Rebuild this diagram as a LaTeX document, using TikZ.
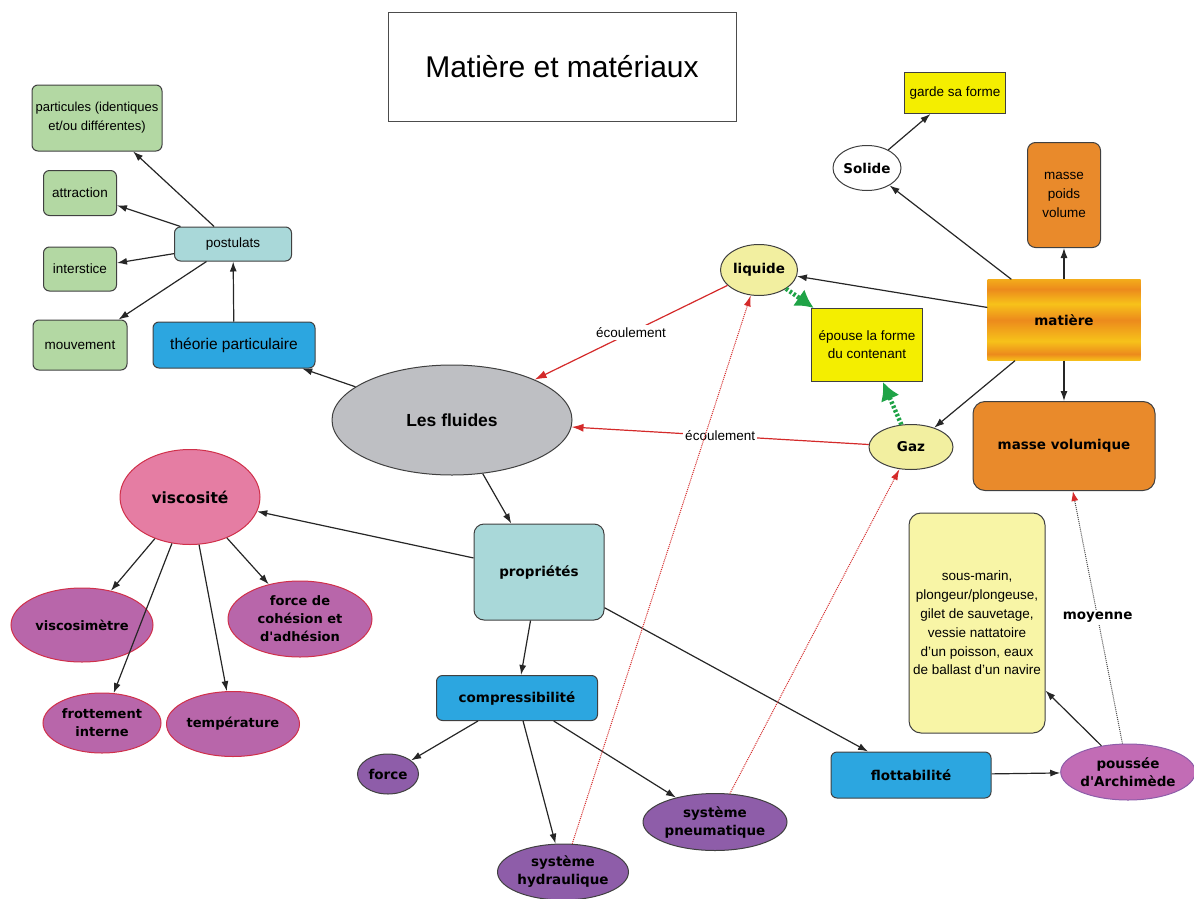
\documentclass[tikz,border=0pt]{standalone}
\usepackage{fontspec}
\setmainfont{Liberation Sans}
\newfontfamily\vfont{DejaVu Sans}
\usetikzlibrary{shapes.geometric,arrows.meta}

\definecolor{vert}{HTML}{B3D8A3}
\definecolor{turquoise}{HTML}{A9D8D9}
\definecolor{bleu}{HTML}{2CA6E0}
\definecolor{gris}{HTML}{BEBFC3}
\definecolor{rose}{HTML}{E57DA3}
\definecolor{mauve}{HTML}{B866AA}
\definecolor{violet}{HTML}{8E5DA9}
\definecolor{pousse}{HTML}{C26CB5}
\definecolor{jaune}{HTML}{F4EE00}
\definecolor{jaunepale}{HTML}{F2EFA0}
\definecolor{creme}{HTML}{F8F5A6}
\definecolor{orange}{HTML}{E98A2B}
\definecolor{morange}{HTML}{EC8A1C}
\definecolor{mjaune}{HTML}{F7C21A}
\definecolor{rouge}{HTML}{D42A2A}
\definecolor{bordrouge}{HTML}{D0304A}
\definecolor{vertf}{HTML}{1FA347}

\pgfdeclareverticalshading{rayures}{100bp}{color(0bp)=(mjaune); color(25bp)=(mjaune);
  color(29bp)=(morange); color(37bp)=(mjaune); color(50bp)=(morange); color(60bp)=(mjaune);
  color(69bp)=(morange); color(75bp)=(mjaune!60!morange); color(100bp)=(mjaune!60!morange)}

\tikzset{
  texte/.style={font=\fontsize{13.5}{19}\selectfont},
  gras/.style={font=\vfont\bfseries\fontsize{13.5}{18}\selectfont},
  boite/.style={draw=black!75, line width=1pt, rounded corners=6pt, inner sep=0pt, align=center},
  ovale/.style={ellipse, draw=black!75, line width=1pt, inner sep=0pt, align=center, gras},
  fleche/.style={draw=black!85, line width=1.2pt, -{Latex[length=10pt,width=7pt]}},
  ecoul/.style={draw=rouge, line width=1.2pt, -{Latex[length=12pt,width=8pt]}},
  pointille/.style={draw=rouge, line width=1pt, densely dotted, -{Latex[length=11pt,width=7pt]}},
  forme/.style={draw=vertf, line width=4.5pt, dash pattern=on 2.5pt off 2pt, -{Latex[length=18pt,width=20pt]}},
  etiq/.style={fill=white, inner sep=2pt, texte}
}

\begin{document}
\begin{tikzpicture}[x=1pt, y=-1pt]
  \useasboundingbox (0,0) rectangle (1194,899);

  % titre
  \node[draw=black!70, line width=1pt, minimum width=348pt, minimum height=108pt,
        font=\fontsize{30}{34}\selectfont] (titre) at (562,67) {Matière et matériaux};

  % particules
  \node[boite, fill=vert, minimum width=130pt, minimum height=66pt, font=\fontsize{13}{19}\selectfont] (part) at (97,118) {particules (identiques\\et/ou différentes)};
  \node[boite, fill=vert, minimum width=73pt, minimum height=45pt, texte] (attr) at (80,193) {attraction};
  \node[boite, fill=vert, minimum width=73pt, minimum height=44pt, texte] (inter) at (80,269) {interstice};
  \node[boite, fill=vert, minimum width=94pt, minimum height=50pt, texte] (mouv) at (80,345) {mouvement};
  \node[boite, fill=turquoise, minimum width=117pt, minimum height=34pt, texte] (post) at (233,244) {postulats};
  \node[boite, fill=bleu, minimum width=162pt, minimum height=46pt, font=\fontsize{15.5}{18}\selectfont] (theo) at (234,345) {théorie particulaire};

  % fluides
  \node[ovale, fill=gris, minimum width=240pt, minimum height=110pt,
        font=\bfseries\fontsize{17.5}{20}\selectfont] (fluides) at (452,420) {Les fluides};
  \node[boite, fill=turquoise, minimum width=130pt, minimum height=96pt, rounded corners=10pt, gras] (prop) at (539,572) {propriétés};

  % viscosite
  \node[ovale, fill=rose, draw=bordrouge, minimum width=140pt, minimum height=95pt,
        font=\vfont\bfseries\fontsize{15.5}{18}\selectfont] (visc) at (190,497) {viscosité};
  \node[ovale, fill=mauve, draw=bordrouge, minimum width=142pt, minimum height=74pt, font=\vfont\bfseries\fontsize{13}{18}\selectfont] (viscm) at (82,625) {viscosimètre};
  \node[ovale, fill=mauve, draw=bordrouge, minimum width=144pt, minimum height=76pt, font=\vfont\bfseries\fontsize{13}{18}\selectfont] (cohes) at (300,619) {force de\\cohésion et\\d'adhésion};
  \node[ovale, fill=mauve, draw=bordrouge, minimum width=118pt, minimum height=60pt, font=\vfont\bfseries\fontsize{13}{18}\selectfont] (frott) at (102,723) {frottement\\interne};
  \node[ovale, fill=mauve, draw=bordrouge, minimum width=133pt, minimum height=65pt, font=\vfont\bfseries\fontsize{13}{18}\selectfont] (temp) at (233,724) {température};

  % compressibilite
  \node[boite, fill=bleu, minimum width=161pt, minimum height=45pt, gras] (comp) at (517,698) {compressibilité};
  \node[ovale, fill=violet, minimum width=61pt, minimum height=40pt] (force) at (388,774) {force};
  \node[ovale, fill=violet, minimum width=131pt, minimum height=56pt] (hydr) at (563,872) {système\\hydraulique};
  \node[ovale, fill=violet, minimum width=144pt, minimum height=57pt] (pneu) at (715,822) {système\\pneumatique};

  % flottabilite
  \node[boite, fill=bleu, minimum width=160pt, minimum height=46pt, gras] (flott) at (911,775) {flottabilité};
  \node[ovale, fill=pousse, draw=violet, minimum width=132pt, minimum height=56pt] (archi) at (1128,772) {poussée\\d'Archimède};
  \node[boite, fill=creme, minimum width=136pt, minimum height=220pt, rounded corners=12pt,
        font=\fontsize{13.5}{18.8}\selectfont] (exemples) at (977,623)
        {sous-marin,\\plongeur/plongeuse,\\gilet de sauvetage,\\vessie nattatoire\\d'un poisson,  eaux\\de ballast d'un navire};

  % matiere
  \node[shading=rayures, minimum width=153pt, minimum height=81pt, inner sep=0pt, gras] (mat) at (1064,320) {matière};
  \node[boite, fill=orange, minimum width=73pt, minimum height=105pt, rounded corners=8pt, texte] (mpv) at (1064,195) {masse\\poids\\volume};
  \node[boite, fill=orange, minimum width=182pt, minimum height=89pt, rounded corners=12pt, gras] (mvol) at (1064,446) {masse volumique};
  \node[ovale, fill=white, minimum width=68pt, minimum height=45pt] (solide) at (867,168) {Solide};
  \node[draw=black!75, line width=1pt, fill=jaune, minimum width=101pt, minimum height=41pt, texte] (garde) at (955,93) {garde sa forme};
  \node[ovale, fill=jaunepale, minimum width=77pt, minimum height=51pt] (liq) at (759,270) {liquide};
  \node[ovale, fill=jaunepale, minimum width=84pt, minimum height=45pt] (gaz) at (911,447) {Gaz};
  \node[draw=black!75, line width=1pt, fill=jaune, minimum width=111pt, minimum height=73pt, align=center,
        font=\fontsize{13.5}{18}\selectfont] (epouse) at (867,345) {épouse la forme\\du contenant};

  % liens
  \draw[fleche] (post) -- (part);
  \draw[fleche] (post) -- (attr);
  \draw[fleche] (post) -- (inter);
  \draw[fleche] (post) -- (mouv);
  \draw[fleche] (theo) -- (post);
  \draw[fleche] (fluides) -- (theo);
  \draw[fleche] (fluides) -- (prop);
  \draw[fleche] (prop) -- (visc);
  \draw[fleche] (visc) -- (viscm);
  \draw[fleche] (visc) -- (frott);
  \draw[fleche] (visc) -- (temp);
  \draw[fleche] (visc) -- (cohes);
  \draw[fleche] (prop) -- (comp);
  \draw[fleche] (comp) -- (force);
  \draw[fleche] (comp) -- (hydr);
  \draw[fleche] (comp) -- (pneu);
  \draw[fleche] (prop) -- (flott);
  \draw[fleche] (flott) -- (archi);
  \draw[fleche] (archi) -- (exemples);
  \draw[draw=black!70, line width=1pt, densely dotted, -{Latex[length=10pt,width=7pt,color=rouge]}]
    (archi) -- node[fill=white, inner sep=2pt, gras] {moyenne} (mvol);
  \draw[fleche] (mat) -- (mvol);
  \draw[fleche] (mat) -- (mpv);
  \draw[fleche] (mat) -- (solide);
  \draw[fleche] (solide) -- (garde);
  \draw[fleche] (mat) -- (liq);
  \draw[fleche] (mat) -- (gaz);
  \draw[forme] (liq) -- (epouse);
  \draw[forme] (gaz) -- (epouse);
  \draw[ecoul] (liq) -- node[etiq] {écoulement} (fluides);
  \draw[ecoul] (gaz) -- node[etiq] {écoulement} (fluides);
  \draw[pointille] (hydr) -- (liq);
  \draw[pointille] (pneu) -- (gaz);
\end{tikzpicture}
\end{document}
